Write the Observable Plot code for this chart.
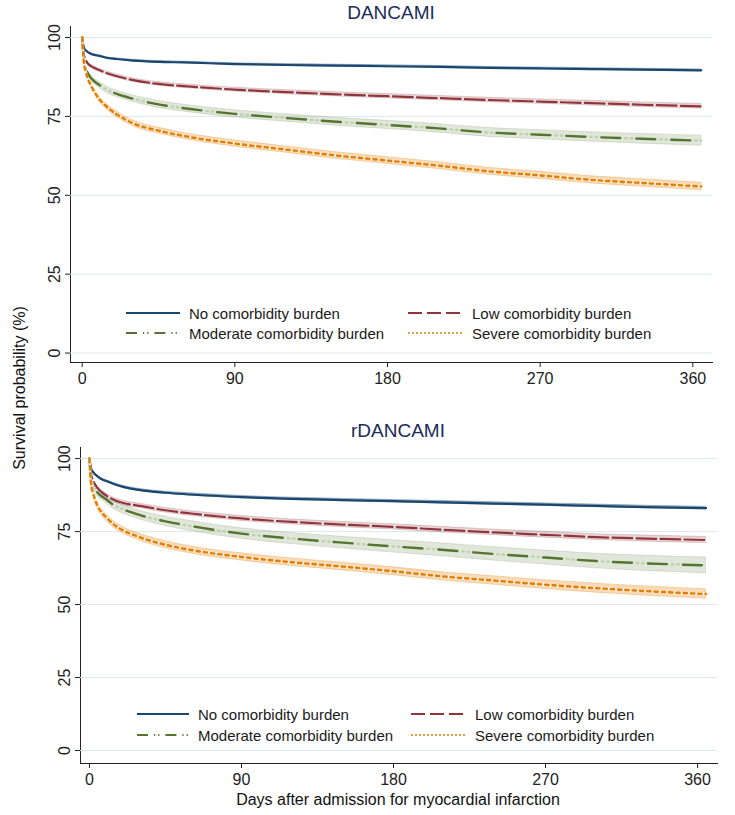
<!DOCTYPE html>
<html><head><meta charset="utf-8">
<script src="https://cdn.jsdelivr.net/npm/d3@7"></script>
<script src="https://cdn.jsdelivr.net/npm/@observablehq/plot@0.6"></script>
<style>
body{margin:0;background:#fff;}
#fig{position:relative;width:735px;height:815px;font-family:"Liberation Sans",Arial,Helvetica,sans-serif;background:#fff;overflow:hidden}
.abs{position:absolute}
.title{font-size:19px;color:#1c2b5a;transform:translate(-50%,-50%);white-space:nowrap}
.ytitle{font-size:16px;color:#111;white-space:nowrap;transform:translate(-50%,-50%) rotate(-90deg)}
.xtitle{font-size:16px;color:#111;white-space:nowrap;transform:translate(-50%,-50%)}
.leg{font-size:15px;color:#1a1a1a;white-space:nowrap;transform:translateY(-50%)}
</style></head><body><div id="fig"></div><script>
// ---------- data ----------
const days = [0,1,2,3,5,7,10,14,20,30,45,60,90,120,150,180,210,240,270,300,330,365];
const seriesNames = ["No comorbidity burden","Low comorbidity burden","Moderate comorbidity burden","Severe comorbidity burden"];
const panelTitles = ["DANCAMI","rDANCAMI"];
const xTicks = [0,90,180,270,360];
const yTicks = [0,25,50,75,100];
const xTitle = "Days after admission for myocardial infarction";
const yTitle = "Survival probability (%)";

// DANCAMI survival (%)
const dNone     = [100,96.8,96.0,95.5,94.9,94.5,94.2,93.6,93.2,92.7,92.3,92.1,91.6,91.3,91.1,90.9,90.7,90.4,90.2,90.0,89.8,89.6];
const dLow      = [100,94.5,93.0,92.0,91.0,90.4,89.7,88.8,87.8,86.5,85.3,84.6,83.5,82.7,82.0,81.4,80.8,80.2,79.7,79.2,78.7,78.2];
const dModerate = [100,93.0,90.5,89.0,87.3,86.2,85.0,83.6,82.2,80.6,78.8,77.6,75.8,74.5,73.3,72.3,71.2,69.9,69.2,68.5,67.9,67.3];
const dSevere   = [100,92.0,89.5,87.5,85.0,83.0,80.5,78.3,75.8,72.8,70.5,68.8,66.4,64.5,62.6,61.0,59.4,57.6,56.3,54.9,53.9,52.8];
// DANCAMI CI half-widths
const dNoneCI     = [0,0.2,0.2,0.2,0.2,0.2,0.2,0.2,0.2,0.25,0.25,0.25,0.25,0.3,0.3,0.3,0.3,0.3,0.3,0.3,0.3,0.3];
const dLowCI      = [0,0.4,0.4,0.45,0.5,0.5,0.5,0.5,0.55,0.55,0.6,0.6,0.6,0.65,0.65,0.7,0.7,0.7,0.7,0.75,0.75,0.75];
const dModerateCI = [0,0.7,0.8,0.85,0.9,0.9,0.95,1.0,1.0,1.05,1.1,1.1,1.15,1.2,1.25,1.3,1.35,1.4,1.45,1.5,1.55,1.6];
const dSevereCI   = [0,0.6,0.7,0.75,0.8,0.8,0.85,0.85,0.9,0.9,0.95,0.95,1.0,1.0,1.05,1.05,1.1,1.1,1.15,1.15,1.2,1.2];

// rDANCAMI survival (%)
const rNone     = [100,96.5,95.5,94.8,93.8,93.0,92.3,91.4,90.3,89.2,88.3,87.7,86.8,86.2,85.8,85.4,85.0,84.6,84.2,83.8,83.4,83.0];
const rLow      = [100,94.5,92.8,91.5,89.8,88.6,87.3,86.0,84.8,83.8,82.3,81.2,79.5,78.3,77.4,76.6,75.6,74.7,73.9,73.1,72.6,72.1];
const rModerate = [100,93.5,91.5,90.0,88.2,87.2,86.0,84.2,82.6,80.6,78.5,76.9,74.3,72.6,71.2,69.9,68.7,67.3,66.1,64.9,64.1,63.4];
const rSevere   = [100,91.0,88.5,86.5,83.6,81.7,79.8,77.6,75.4,73.0,70.5,68.7,66.3,64.5,63.0,61.4,59.6,58.2,56.8,55.6,54.6,53.6];
// rDANCAMI CI half-widths
const rNoneCI     = [0,0.3,0.3,0.3,0.3,0.3,0.3,0.35,0.35,0.35,0.35,0.4,0.4,0.4,0.4,0.4,0.45,0.45,0.45,0.45,0.45,0.45];
const rLowCI      = [0,0.6,0.6,0.65,0.65,0.7,0.7,0.7,0.75,0.75,0.8,0.8,0.85,0.85,0.9,0.9,0.95,0.95,1.0,1.0,1.05,1.05];
const rModerateCI = [0,1.0,1.1,1.2,1.2,1.3,1.3,1.4,1.4,1.5,1.6,1.7,1.8,1.9,2.0,2.1,2.2,2.3,2.4,2.5,2.6,2.7];
const rSevereCI   = [0,0.8,0.9,0.9,1.0,1.0,1.05,1.1,1.1,1.15,1.2,1.2,1.25,1.3,1.3,1.35,1.4,1.45,1.5,1.55,1.6,1.65];

// ---------- styles ----------
const colors = ["#1a476f","#90353b","#55752f","#e37e00"];
const dashes = [null,"20,4","19,16","3.5,3.8"];
const widths = [2.2,2.2,2.4,2.4];
const bandOpacity = [0.35,0.22,0.18,0.28];
const underlay = ["#fff","#fff","#b9cca4","#fff"];
const underlayDash = [null,null,"0,24,1.4,4,1.4,4.2",null];

function table(vals, hw){
  return days.map((d,i)=>({day:d, v:vals[i], lo:vals[i]-hw[i], hi:vals[i]+hw[i]}));
}

function panel(series, o){
  const marks = [Plot.gridY(yTicks,{stroke:"#dbe8ee",strokeOpacity:1,strokeWidth:1})];
  series.forEach((t,i)=>marks.push(Plot.areaY(t,{x:"day",y1:"lo",y2:"hi",fill:colors[i],fillOpacity:bandOpacity[i],stroke:colors[i],strokeOpacity:bandOpacity[i]*1.2,strokeWidth:0.8,curve:"monotone-x"})));
  series.forEach((t,i)=>{
    if (i>0) marks.push(Plot.lineY(t,{x:"day",y:"v",stroke:underlay[i],strokeOpacity:0.85,strokeWidth:widths[i],strokeDasharray:underlayDash[i],curve:"monotone-x"}));
    marks.push(Plot.lineY(t,{x:"day",y:"v",stroke:colors[i],strokeWidth:widths[i],strokeDasharray:dashes[i],curve:"monotone-x"}));
  });
  return Plot.plot({
    width:735, height:o.height,
    marginLeft:o.ml, marginRight:o.mr, marginTop:o.mt, marginBottom:o.mb,
    x:{domain:o.xd, ticks:xTicks, tickSize:5, tickPadding:5, line:true, label:null},
    y:{domain:o.yd, ticks:yTicks, tickSize:5, tickPadding:6, tickRotate:-90, line:true, label:null},
    style:{fontFamily:'"Liberation Sans",Arial,sans-serif', fontSize:"16px", color:"#222", background:"transparent", overflow:"visible"},
    marks
  });
}

const fig = document.getElementById("fig");
function place(el, x, y){ el.classList.add("abs"); el.style.left=x+"px"; el.style.top=y+"px"; fig.appendChild(el); return el; }
function div(cls, text, x, y){ const d=document.createElement("div"); d.className=cls; d.textContent=text; return place(d,x,y); }

const topPanel = panel([table(dNone,dNoneCI),table(dLow,dLowCI),table(dModerate,dModerateCI),table(dSevere,dSevereCI)],
  {height:395, ml:70, mr:23, mt:26, mb:33, xd:[-6.9,371.6], yd:[-3,103.5]});
place(topPanel,0,0);
const botPanel = panel([table(rNone,rNoneCI),table(rLow,rLowCI),table(rModerate,rModerateCI),table(rSevere,rSevereCI)],
  {height:390, ml:80, mr:18, mt:47, mb:27, xd:[-5.3,371.8], yd:[-4.45,103.8]});
place(botPanel,0,400);

div("title", panelTitles[0], 391, 13);
div("title", panelTitles[1], 398, 431);
div("xtitle", xTitle, 398, 800);
div("ytitle", yTitle, 20, 388);

// legends
const legendDash = [null,"14,5","11,6,1.2,3,1.2,6","2,2"];
function swatch(i, x1, x2, y){
  const ns="http://www.w3.org/2000/svg";
  const s=document.createElementNS(ns,"svg");
  s.setAttribute("width",x2-x1); s.setAttribute("height",6);
  const l=document.createElementNS(ns,"line");
  l.setAttribute("x1",0); l.setAttribute("x2",x2-x1); l.setAttribute("y1",3); l.setAttribute("y2",3);
  l.setAttribute("stroke",colors[i]); l.setAttribute("stroke-width", i===3?1.6:2.2);
  if (legendDash[i]) l.setAttribute("stroke-dasharray",legendDash[i]);
  s.appendChild(l);
  s.style.position="absolute"; s.style.left=x1+"px"; s.style.top=(y-3)+"px";
  fig.appendChild(s);
}
function legend(rows, c1, c2){
  const pos=[[c1,rows[0]],[c2,rows[0]],[c1,rows[1]],[c2,rows[1]]];
  seriesNames.forEach((n,i)=>{
    const [c,y]=pos[i];
    swatch(i,c[0],c[1],y);
    div("leg",n,c[2],y);
  });
}
legend([313,333],[126,180,189],[408,462,472]);
legend([714,735],[137,189,198],[411,465,475]);
</script></body></html>
